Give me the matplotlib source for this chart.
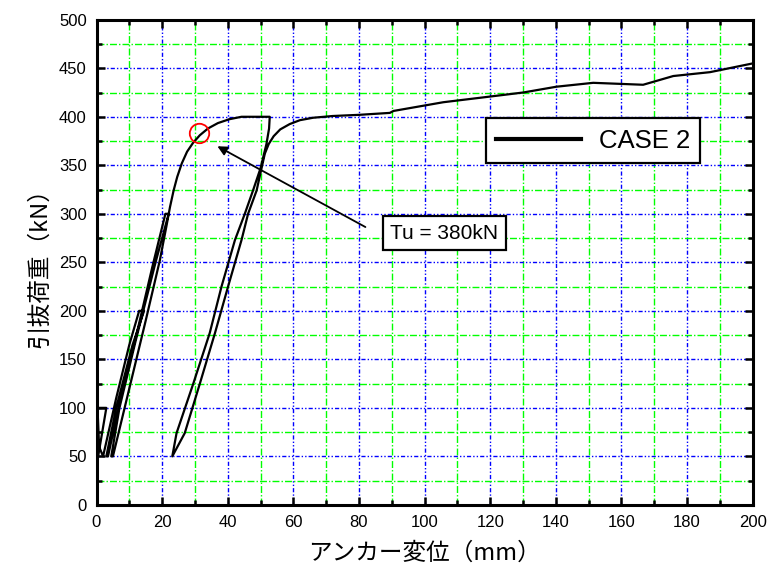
import matplotlib.pyplot as plt
from matplotlib.ticker import MultipleLocator

# anchor pull-out test, cyclic loading
# initial cycles up to 100 / 200 / 300 kN, then loading to 400 kN
cyc_x = [0.5, 3.0, 0.3, 0.8, 2.0, 6.0, 10.0, 13.0, 14.5, 11.0, 6.0, 3.0,
         3.5, 8.0, 12.5, 17.0, 21.0, 22.0, 18.0, 12.0, 7.0, 4.5,
         5.0, 10.0, 15.0, 19.3, 21.3, 22.4, 23.5, 24.6, 26.0, 27.6, 29.4,
         31.5, 34.0, 37.0, 40.5, 44.2, 52.8]
cyc_y = [50, 100, 100, 60, 50, 110, 165, 200, 200, 165, 100, 50,
         50, 120, 180, 245, 300, 300, 250, 170, 100, 50,
         50, 120, 190, 252, 287, 307, 324, 338, 352, 364, 373,
         381, 388, 393.5, 397.5, 400, 400]

# unloading from 400 kN down to 50 kN
unl_x = [52.8, 52.6, 51.8, 50.0, 47.7, 45.2, 42.2, 38.1, 34.5, 29.5, 24.4, 23.1]
unl_y = [400, 388, 372, 347, 324, 300, 273, 225, 177, 125, 74, 50]

# reloading and final envelope up to 200 mm
rel_x = [23.1, 26.9, 31.5, 36.1, 40.1, 44.2, 46.2, 48.8, 50.3, 51.3, 52.5, 54.0,
         56.0, 58.9, 62.0, 66.0, 72.0, 80.0, 89.4, 90.5, 105.7, 117.9, 130.0,
         140.2, 151.4, 166.6, 175.8, 187.0, 200.0]
rel_y = [50, 74, 125, 177, 225, 273, 300, 324, 347, 362, 372, 380,
         387, 392.5, 396.5, 399, 400.8, 402, 404, 406, 415, 420, 425,
         431, 435, 433, 442, 446, 455]

curve_x = cyc_x + unl_x[1:] + rel_x[1:]
curve_y = cyc_y + unl_y[1:] + rel_y[1:]

# ultimate load marker
tu_x, tu_y = 31.3, 383.4
label_x, label_y = 106.0, 280.0

sans = ["Liberation Sans", "DejaVu Sans"]
cjk = ["Noto Sans CJK JP", "DejaVu Sans"]

fig = plt.figure(figsize=(7.72, 5.81), dpi=100)
ax = fig.add_axes([0.125, 0.131, 0.85, 0.835])

ax.plot(curve_x, curve_y, color="black", lw=1.6, label="CASE 2", zorder=3,
        solid_joinstyle="round")

ax.set_xlim(0, 200)
ax.set_ylim(0, 500)
ax.xaxis.set_major_locator(MultipleLocator(20))
ax.xaxis.set_minor_locator(MultipleLocator(10))
ax.yaxis.set_major_locator(MultipleLocator(50))
ax.yaxis.set_minor_locator(MultipleLocator(25))

# major grid blue dash-dot-dot, minor grid green dash-dot
ax.grid(which="major", color="#0000ff", lw=1.0,
        linestyle=(0, (3, 1.5, 1, 1.5, 1, 1.5)), zorder=1)
ax.grid(which="minor", color="#00ff00", lw=1.0,
        linestyle=(0, (5, 1.5, 1, 1.5)), zorder=1)
ax.set_axisbelow(True)

for sp in ax.spines.values():
    sp.set_linewidth(2.2)
ax.tick_params(which="both", direction="in", top=True, right=True, width=1.8)
ax.tick_params(which="major", length=6, pad=7)
ax.tick_params(which="minor", length=3.5)
for lab in ax.get_xticklabels() + ax.get_yticklabels():
    lab.set_family(sans)
    lab.set_fontsize(12)

ax.set_xlabel("アンカー変位（mm）", family=cjk, fontsize=17, labelpad=9)
ax.set_ylabel("引抜荷重（kN）", family=cjk, fontsize=17, labelpad=6)

# red circle at Tu and the arrow to the label
ax.plot([tu_x], [tu_y], marker="o", markersize=14, markerfacecolor="none",
        markeredgecolor="red", markeredgewidth=1.3, zorder=4)
ax.annotate("", xy=(36.1, 371), xytext=(82.7, 285),
            arrowprops=dict(arrowstyle="-|>", color="black", lw=1.3,
                            mutation_scale=14), zorder=4)
ax.text(label_x, label_y, "Tu = 380kN", family=sans, fontsize=15,
        ha="center", va="center", zorder=5,
        bbox=dict(boxstyle="square,pad=0.35", fc="white", ec="black", lw=1.6))

leg = ax.legend(loc="upper right", bbox_to_anchor=(0.92, 0.797),
                borderaxespad=0, prop={"family": sans, "size": 18.5},
                fancybox=False, framealpha=1, edgecolor="black",
                handlelength=3.3, borderpad=0.4, handletextpad=0.7)
leg.get_frame().set_linewidth(1.6)
leg.get_lines()[0].set_linewidth(3)

fig.savefig("out.png", dpi=100)
